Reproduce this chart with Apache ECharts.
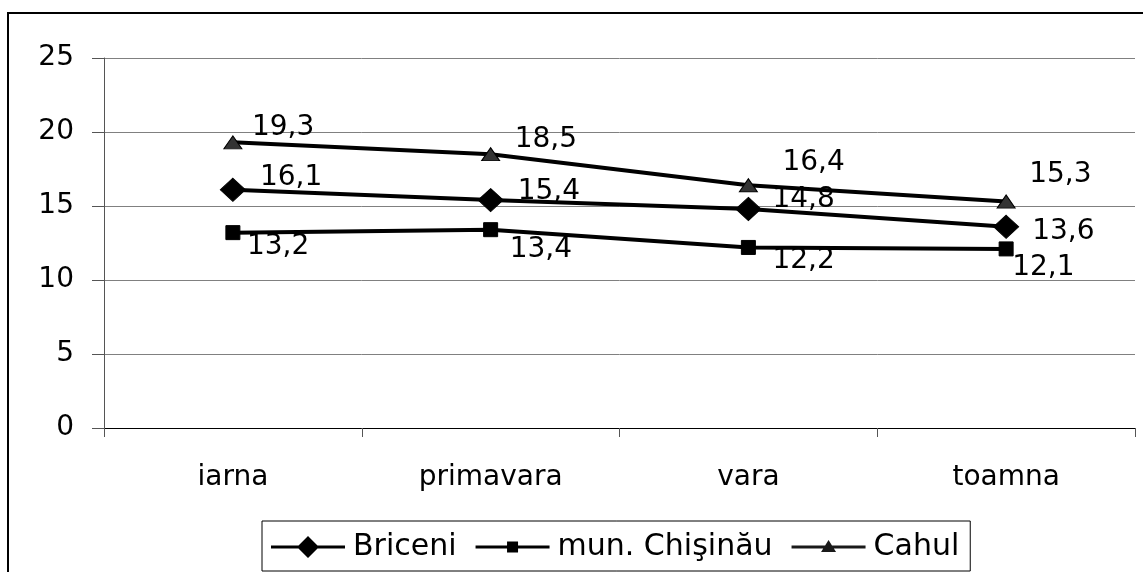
<!DOCTYPE html>
<html>
<head>
<meta charset="utf-8">
<script src="https://cdn.jsdelivr.net/npm/echarts@6/dist/echarts.min.js"></script>
<style>
  html, body { margin: 0; padding: 0; background: #fff; }
  #chart { width: 1143px; height: 572px; }
</style>
</head>
<body>
<div id="chart"></div>
<script>
// Seasons on the category axis
const seasons = ['iarna', 'primavara', 'vara', 'toamna'];

// Values per locality
const briceni = [16.1, 15.4, 14.8, 13.6];
const chisinau = [13.2, 13.4, 12.2, 12.1];
const cahul = [19.3, 18.5, 16.4, 15.3];

// Value axis range
const yMin = 0, yMax = 25, yStep = 5;

const FONT = '"DejaVu Sans", "Open Sans", sans-serif';
const FS = 28;

// Where each value label sits relative to its point (left edge, vertical centre)
const labelShift = {
  'Briceni': [[27, -12], [27, -8], [24, -9], [26, 5]],
  'mun. Chişinău': [[14, 14], [19, 20], [24, 13], [6, 19]],
  'Cahul': [[19, -15], [24, -14], [34, -23], [23, -27]]
};

// Legend icons: a line with the series marker in the middle, in a 74 x 22 box
// (the two zero-length segments pin the corners of the box)
const FRAME = 'M0 0 L0 0 M74 22 L74 22 ';
const LINE = 'M0 9.5 H74 V12.5 H0 Z ';
const legendIcons = {
  'Briceni': 'path://' + FRAME + LINE + 'M37 0 L48 11 L37 22 L26 11 Z',
  'mun. Chişinău': 'path://' + FRAME + LINE + 'M31.5 5.5 H42.5 V16.5 H31.5 Z',
  'Cahul': 'path://' + FRAME + LINE + 'M37 4 L44.5 16 L29.5 16 Z'
};

const labelFmt = p => String(p.value).replace('.', ',');

function lineSeries(name, data, symbol, size, color) {
  const shifts = labelShift[name];
  return {
    name: name,
    type: 'line',
    data: data.map((v, i) => ({
      value: v,
      label: { offset: shifts[i] }
    })),
    symbol: symbol,
    symbolSize: size,
    lineStyle: { color: '#000', width: 4 },
    itemStyle: { color: color, borderColor: '#000', borderWidth: 1 },
    label: {
      show: true,
      position: 'inside',
      align: 'left',
      verticalAlign: 'middle',
      formatter: labelFmt,
      fontFamily: FONT,
      fontSize: FS,
      color: '#000'
    },
    emphasis: { disabled: true },
    z: 3
  };
}

const chart = echarts.init(document.getElementById('chart'), null, { renderer: 'canvas' });

chart.setOption({
  animation: false,
  backgroundColor: '#fff',
  textStyle: { fontFamily: FONT },
  graphic: [{
    type: 'rect',
    shape: { x: 8, y: 13, width: 1400, height: 900 },
    style: { fill: 'none', stroke: '#000', lineWidth: 2 },
    silent: true,
    z: -1
  }],
  grid: { left: 104, right: 8, top: 58, bottom: 144 },
  xAxis: {
    type: 'category',
    data: seasons,
    boundaryGap: true,
    axisLine: { lineStyle: { color: '#000', width: 1 } },
    axisTick: { show: true, length: 9, lineStyle: { color: '#555' } },
    axisLabel: { color: '#000', fontFamily: FONT, fontSize: FS, margin: 36 },
    splitLine: { show: false }
  },
  yAxis: {
    type: 'value',
    min: yMin,
    max: yMax,
    interval: yStep,
    axisLine: { show: true, lineStyle: { color: '#555', width: 1 } },
    axisTick: { show: true, length: 12, lineStyle: { color: '#555' } },
    axisLabel: { color: '#000', fontFamily: FONT, fontSize: FS, margin: 30 },
    splitLine: { show: true, lineStyle: { color: '#808080', width: 1 } }
  },
  legend: {
    left: 262,
    top: 521,
    width: 720,
    orient: 'horizontal',
    padding: [11, 11, 9, 9],
    itemGap: 19,
    itemWidth: 74,
    itemHeight: 22,
    borderColor: '#000',
    borderWidth: 1,
    textStyle: { color: '#000', fontFamily: FONT, fontSize: 30, padding: [0, 0, 0, 3] },
    data: [
      { name: 'Briceni', icon: legendIcons['Briceni'], itemStyle: { color: '#000', borderWidth: 0 } },
      { name: 'mun. Chişinău', icon: legendIcons['mun. Chişinău'], itemStyle: { color: '#000', borderWidth: 0 } },
      { name: 'Cahul', icon: legendIcons['Cahul'], itemStyle: { color: '#1a1a1a', borderWidth: 0 } }
    ]
  },
  series: [
    lineSeries('Briceni', briceni, 'diamond', [25, 23], '#000'),
    lineSeries('mun. Chişinău', chisinau, 'rect', 14, '#000'),
    lineSeries('Cahul', cahul, 'triangle', [18, 13], '#333')
  ]
});
</script>
</body>
</html>
